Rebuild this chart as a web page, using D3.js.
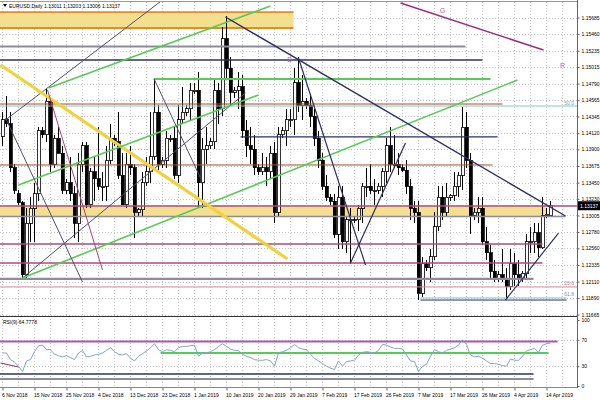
<!DOCTYPE html>
<html><head><meta charset="utf-8">
<script src="https://cdn.jsdelivr.net/npm/d3@7/dist/d3.min.js"></script>
<style>
html,body{margin:0;padding:0;background:#fff;}
svg{display:block;font-family:"Liberation Sans",Arial,sans-serif;}
</style></head><body>
<svg id="chart" width="600" height="400"></svg>
<script>
// ---------- DATA ----------
const dateLabels = ["6 Nov 2018","15 Nov 2018","25 Nov 2018","4 Dec 2018","13 Dec 2018","23 Dec 2018","1 Jan 2019","10 Jan 2019","20 Jan 2019","29 Jan 2019","7 Feb 2019","17 Feb 2019","26 Feb 2019","7 Mar 2019","17 Mar 2019","26 Mar 2019","4 Apr 2019","14 Apr 2019"];
const dateLabelBars = [0,8,16,24,32,40,48,56,64,72,80,88,96,104,112,120,128,136];
const priceTicks = [1.15685,1.15460,1.15235,1.15015,1.14790,1.14565,1.14345,1.14120,1.13900,1.13675,1.13450,1.13230,1.13005,1.12780,1.12560,1.12335,1.12110,1.11890,1.11665];
const rsiTicks = [100,70,30,0];

const openP = [1.1408,1.1430,1.1425,1.1365,1.1330,1.1318,1.1220,1.1290,1.1310,1.1330,
 1.1415,1.1410,1.1455,1.1370,1.1405,1.1385,1.1335,1.1345,1.1330,1.1290,
 1.1370,1.1395,1.1315,1.1360,1.1350,1.1340,1.1340,1.1375,1.1405,1.1400,
 1.1355,1.1315,1.1370,1.1365,1.1305,1.1308,1.1345,1.1360,1.1380,1.1440,
 1.1370,1.1375,1.1405,1.1405,1.1355,1.1430,1.1440,1.1445,1.1470,1.1470,
 1.1345,1.1390,1.1395,1.1400,1.1470,1.1445,1.1540,1.1500,1.1467,1.1470,
 1.1475,1.1415,1.1395,1.1390,1.1365,1.1360,1.1365,1.1360,1.1385,1.1305,
 1.1410,1.1415,1.1430,1.1430,1.1480,1.1450,1.1455,1.1450,1.1435,1.1405,
 1.1375,1.1340,1.1325,1.1320,1.1275,1.1325,1.1265,1.1295,1.1295,1.1295,
 1.1310,1.1340,1.1340,1.1335,1.1335,1.1340,1.1360,1.1395,1.1370,1.1370,
 1.1365,1.1362,1.1340,1.1310,1.1305,1.1195,1.1235,1.1230,1.1245,1.1285,
 1.1325,1.1305,1.1325,1.1328,1.1340,1.1355,1.1420,1.1375,1.1300,1.1305,
 1.1310,1.1265,1.1250,1.1225,1.1215,1.1220,1.1215,1.1205,1.1235,1.1220,
 1.1215,1.1222,1.1265,1.1265,1.1277,1.1257,1.1300,1.13011];
const highP = [1.1440,1.1462,1.1440,1.1370,1.1335,1.1320,1.1310,1.1325,1.1345,1.1420,
 1.1420,1.1472,1.1460,1.1410,1.1420,1.1395,1.1350,1.1380,1.1340,1.1385,
 1.1400,1.1400,1.1365,1.1380,1.1420,1.1360,1.1395,1.1425,1.1410,1.1440,
 1.1385,1.1385,1.1395,1.1370,1.1310,1.1360,1.1380,1.1440,1.1485,1.1450,
 1.1380,1.1415,1.1410,1.1420,1.1450,1.1475,1.1450,1.1480,1.1480,1.1495,
 1.1405,1.1420,1.1405,1.1485,1.1480,1.1555,1.1570,1.1515,1.1475,1.1495,
 1.1490,1.1430,1.1420,1.1410,1.1370,1.1385,1.1380,1.1395,1.1400,1.1420,
 1.1420,1.1445,1.1445,1.1500,1.1515,1.1490,1.1460,1.1465,1.1445,1.1415,
 1.1385,1.1355,1.1330,1.1330,1.1340,1.1340,1.1300,1.1310,1.1300,1.1315,
 1.1345,1.1365,1.1370,1.1350,1.1345,1.1365,1.1405,1.1420,1.1410,1.1385,
 1.1370,1.1375,1.1350,1.1320,1.1320,1.1245,1.1240,1.1255,1.1305,1.1340,
 1.1340,1.1345,1.1330,1.1360,1.1360,1.1447,1.1440,1.1385,1.1310,1.1325,
 1.1325,1.1285,1.1260,1.1240,1.1225,1.1255,1.1230,1.1255,1.1250,1.1240,
 1.1225,1.1275,1.1285,1.1290,1.1290,1.1325,1.1310,1.13203];
const lowP = [1.1395,1.1420,1.1360,1.1330,1.1315,1.1216,1.1215,1.1265,1.1265,1.1320,
 1.1405,1.1400,1.1360,1.1365,1.1385,1.1330,1.1330,1.1320,1.1270,1.1265,
 1.1360,1.1310,1.1310,1.1320,1.1335,1.1320,1.1320,1.1370,1.1395,1.1350,
 1.1315,1.1310,1.1355,1.1270,1.1300,1.1300,1.1340,1.1345,1.1375,1.1360,
 1.1365,1.1365,1.1400,1.1350,1.1345,1.1425,1.1435,1.1430,1.1465,1.1310,
 1.1310,1.1370,1.1390,1.1390,1.1425,1.1435,1.1485,1.1450,1.1460,1.1445,
 1.1405,1.1380,1.1370,1.1355,1.1355,1.1355,1.1340,1.1350,1.1290,1.1300,
 1.1405,1.1395,1.1420,1.1410,1.1440,1.1430,1.1445,1.1420,1.1395,1.1365,
 1.1335,1.1320,1.1315,1.1270,1.1255,1.1255,1.1250,1.1235,1.1290,1.1280,
 1.1290,1.1325,1.1330,1.1315,1.1330,1.1325,1.1345,1.1360,1.1365,1.1355,
 1.1360,1.1330,1.1295,1.1290,1.1186,1.1190,1.1225,1.1210,1.1240,1.1280,
 1.1295,1.1300,1.1320,1.1320,1.1325,1.1335,1.1365,1.1275,1.1295,1.1290,
 1.1260,1.1240,1.1215,1.1210,1.1210,1.1210,1.1188,1.1200,1.1205,1.1205,
 1.1210,1.1215,1.1250,1.1250,1.1245,1.1255,1.1297,1.13006];
const closeP = [1.1430,1.1425,1.1365,1.1335,1.1318,1.1220,1.1290,1.1310,1.1330,1.1415,
 1.1410,1.1455,1.1370,1.1405,1.1385,1.1335,1.1345,1.1330,1.1290,1.1370,
 1.1395,1.1315,1.1360,1.1350,1.1340,1.1340,1.1375,1.1405,1.1400,1.1355,
 1.1315,1.1370,1.1365,1.1305,1.1308,1.1345,1.1360,1.1380,1.1440,1.1370,
 1.1375,1.1405,1.1405,1.1355,1.1430,1.1440,1.1445,1.1470,1.1470,1.1345,
 1.1390,1.1395,1.1400,1.1470,1.1445,1.1540,1.1500,1.1467,1.1470,1.1475,
 1.1415,1.1395,1.1390,1.1365,1.1360,1.1365,1.1360,1.1385,1.1305,1.1410,
 1.1415,1.1430,1.1430,1.1480,1.1450,1.1455,1.1450,1.1435,1.1405,1.1375,
 1.1340,1.1325,1.1320,1.1275,1.1325,1.1265,1.1295,1.1295,1.1295,1.1310,
 1.1340,1.1340,1.1335,1.1335,1.1340,1.1360,1.1395,1.1370,1.1370,1.1365,
 1.1362,1.1340,1.1310,1.1305,1.1195,1.1235,1.1230,1.1245,1.1285,1.1325,
 1.1305,1.1325,1.1328,1.1340,1.1355,1.1420,1.1375,1.1300,1.1305,1.1310,
 1.1265,1.1250,1.1225,1.1215,1.1220,1.1215,1.1205,1.1235,1.1220,1.1215,
 1.1222,1.1265,1.1265,1.1277,1.1257,1.1300,1.1302,1.13137];
const rsiValues = [50,50,40,36,30,22,38,40,52,61,
 62,55,55,48,46,44,46,43,40,50,
 54,44,45,47,48,50,54,58,52,48,
 47,49,42,38,45,49,53,58,64,55,
 52,55,54,52,58,60,60,61,62,45,
 50,50,52,55,60,64,60,56,54,54,
 48,45,43,40,39,39,40,38,30,50,
 52,54,58,63,58,56,55,48,42,38,
 34,30,27,25,38,30,37,38,39,47,
 51,52,51,50,54,63,62,59,57,57,
 56,47,38,37,22,30,33,45,55,52,
 50,54,56,58,62,70,63,47,44,45,
 42,38,34,34,33,31,30,41,39,39,
 45,53,55,57,51,62,64,65];

// drawn objects (bar index / price)
const zoneTop = [1.15759, 1.13134];
const zoneBottom = [1.15543, 1.12992];
const zoneStart = [-1, -1];
const zoneEnd = [72.75, 136];

const hLinePrice = [1.15292,1.15110,1.14853,1.14514,1.14487,1.14068,1.13689,1.13134,1.12992,1.12619,1.12362,1.12146,1.12038,1.11889,1.11861];
const hLineStart = [-1,-1,37.75,-1,-1,59.5,-1,-1,-1,-1,-1,-1,-1,104.5,104.5];
const hLineEnd   = [115.75,120,122,125,144,123.75,122.5,144,140.75,135,135,132.75,144,141,141];

const diagStartBar = [5,5,0.75,-0.5,11.5,4,55.75,74,87,11.25,99.5,125.75,0.75,37.9];
const diagStartPrice = [1.12159,1.12159,1.14298,1.15042,1.14731,1.13418,1.15692,1.15137,1.12362,1.14704,1.15881,1.11861,1.14325,1.14853];
const diagEndBar = [60.75,128.75,40,71.25,67,64,140.75,90.75,100.75,25,135.25,139,20,49.5];
const diagEndPrice = [1.14663,1.14839,1.15922,1.12416,1.15841,1.14636,1.12998,1.12335,1.13986,1.12267,1.15245,1.12768,1.12105,1.13513];

const fiboLabels = ["50.0","23.6","61.8"];
const fiboPrice = [1.14487,1.12038,1.11889];
const markText = ["G","R","B"];
const markBar = [110,140,71.75];
const markPrice = [1.15773,1.15042,1.15123];

const rsiLineLevel = [67.4,50,18.2,10.6];
const rsiLineStart = [-1,39.5,-1,-1];
const rsiLineEnd = [138.75,136.5,132.75,132.75];
const rsiDiagBar = [-0.5,4];
const rsiDiagVal = [34.8,28.8];

const titleText = "EURUSD,Daily  1.13011 1.13203 1.13006 1.13137";
const rsiTitle = "RSI(9) 64.7778";
const lastPrice = 1.13137;

// ---------- STYLES ----------
const hLineStyle = [
 ["#8c8c9c",2],["#2e3060",1.5],["#55cc55",2],["#a0522d",1],["#88c4c4",1],["#2e3060",1.2],["#a0522d",1],
 ["#b0487a",1.5],["#8c8c9c",1.5],["#b0487a",1.5],["#b0487a",1.5],["#8c8c9c",2.2],["#d08a9a",1],["#88c4c4",1],["#2e3060",1]];
const diagStyle = [
 ["#50506a",1],["#55cc55",1.6],["#50506a",1],["#f2d23c",3.2],["#55cc55",1.6],["#55cc55",1.6],["#2e3060",1.4],["#2e3060",1.2],["#2e3060",1.2],["#b0407a",1],["#a03070",1.5],["#2e3060",1.2],["#50506a",1],["#50506a",1]];
const rsiLineStyle = [["#a858b8",2.2],["#55cc55",2.2],["#2e3060",1.4],["#8c8c9c",2.2]];

// ---------- SCALES ----------
const svg = d3.select("#chart");
const plotRight = 577;
const x = d3.scaleLinear().domain([0,137]).range([2.5,550.5]);
const y = d3.scaleLinear().domain([1.11665,1.15685]).range([314.5,17.5]);
const yr = d3.scaleLinear().domain([0,100]).range([386,320]);
const mainTop = 2, mainBottom = 316, rsiTop = 316, rsiBottom = 387.5;

const defs = svg.append("defs");
defs.append("clipPath").attr("id","clipMain").append("rect").attr("x",0).attr("y",mainTop).attr("width",plotRight).attr("height",mainBottom-mainTop);
defs.append("clipPath").attr("id","clipRsi").append("rect").attr("x",0).attr("y",rsiTop).attr("width",plotRight).attr("height",rsiBottom-rsiTop);

svg.append("rect").attr("width",600).attr("height",400).attr("fill","#fff");

const main = svg.append("g").attr("clip-path","url(#clipMain)");
const rsiG = svg.append("g").attr("clip-path","url(#clipRsi)");

// grid
const gridBars = d3.range(0,144,4);
const gridColor = "#c4c4c4";
main.selectAll("line.vg").data(gridBars).join("line")
  .attr("x1",d=>x(d)).attr("x2",d=>x(d)).attr("y1",mainTop).attr("y2",mainBottom)
  .attr("stroke",gridColor).attr("stroke-dasharray","1,2").attr("shape-rendering","crispEdges");
main.selectAll("line.hg").data(priceTicks).join("line")
  .attr("x1",0).attr("x2",plotRight).attr("y1",d=>Math.round(y(d))+0.5).attr("y2",d=>Math.round(y(d))+0.5)
  .attr("stroke",gridColor).attr("stroke-dasharray","1,2").attr("shape-rendering","crispEdges");
rsiG.selectAll("line.vg").data(gridBars).join("line")
  .attr("x1",d=>x(d)).attr("x2",d=>x(d)).attr("y1",rsiTop).attr("y2",rsiBottom)
  .attr("stroke",gridColor).attr("stroke-dasharray","1,2").attr("shape-rendering","crispEdges");
rsiG.selectAll("line.hg").data([70,30]).join("line")
  .attr("x1",0).attr("x2",plotRight).attr("y1",d=>Math.round(yr(d))+0.5).attr("y2",d=>Math.round(yr(d))+0.5)
  .attr("stroke",gridColor).attr("stroke-dasharray","1,2").attr("shape-rendering","crispEdges");

// zones
const zones = d3.range(zoneTop.length);
main.selectAll("rect.zone").data(zones).join("rect")
  .attr("x",i=>x(zoneStart[i])).attr("width",i=>x(zoneEnd[i])-x(zoneStart[i]))
  .attr("y",i=>y(zoneTop[i])).attr("height",i=>y(zoneBottom[i])-y(zoneTop[i]))
  .attr("fill","#f3df8e");
[zoneTop[0],zoneBottom[0]].forEach(p=>{
  main.append("line").attr("x1",x(zoneStart[0])).attr("x2",x(zoneEnd[0]))
   .attr("y1",y(p)).attr("y2",y(p)).attr("stroke","#e8892a").attr("stroke-width",1.8);
});

// candles
const bars = d3.range(openP.length);
const cg = main.append("g").attr("shape-rendering","crispEdges");
cg.selectAll("line.wick").data(bars).join("line")
  .attr("x1",i=>x(i)).attr("x2",i=>x(i))
  .attr("y1",i=>y(highP[i])).attr("y2",i=>y(lowP[i]))
  .attr("stroke","#000").attr("stroke-width",1);
cg.selectAll("rect.body").data(bars).join("rect")
  .attr("x",i=>x(i)-1.5).attr("width",3)
  .attr("y",i=>y(Math.max(openP[i],closeP[i])))
  .attr("height",i=>Math.max(1,Math.abs(y(openP[i])-y(closeP[i]))))
  .attr("fill",i=>closeP[i]>=openP[i]?"#fff":"#000")
  .attr("stroke","#000").attr("stroke-width",0.8);

// horizontal lines
main.selectAll("line.hl").data(d3.range(hLinePrice.length)).join("line")
  .attr("x1",i=>x(hLineStart[i])).attr("x2",i=>x(hLineEnd[i]))
  .attr("y1",i=>y(hLinePrice[i])).attr("y2",i=>y(hLinePrice[i]))
  .attr("stroke",i=>hLineStyle[i][0]).attr("stroke-width",i=>hLineStyle[i][1]);

// diagonal lines
main.selectAll("line.dl").data(d3.range(diagStartBar.length)).join("line")
  .attr("x1",i=>x(diagStartBar[i])).attr("y1",i=>y(diagStartPrice[i]))
  .attr("x2",i=>x(diagEndBar[i])).attr("y2",i=>y(diagEndPrice[i]))
  .attr("stroke",i=>diagStyle[i][0]).attr("stroke-width",i=>diagStyle[i][1]);

// fibo labels
const fiboColors = ["#6aaaaa","#c07a8a","#6a9ab0"];
main.selectAll("text.fibo").data(d3.range(fiboLabels.length)).join("text")
  .attr("x",574).attr("y",i=>y(fiboPrice[i])-1.5).attr("text-anchor","end")
  .attr("font-size",5).attr("fill",(d,i)=>fiboColors[i]).text(i=>fiboLabels[i]);
main.selectAll("text.mark").data(d3.range(markText.length)).join("text")
  .attr("x",i=>x(markBar[i])).attr("y",i=>y(markPrice[i])+2.5).attr("text-anchor","middle")
  .attr("font-size",7).attr("fill","#b060c0").text(i=>markText[i]);

// title
svg.append("path").attr("d","M3,4 L7,4 L5,7 Z").attr("fill","#000");
svg.append("text").attr("x",9).attr("y",8).attr("font-size",5).attr("fill","#000").text(titleText);

// RSI
rsiG.selectAll("line.rl").data(d3.range(rsiLineLevel.length)).join("line")
  .attr("x1",i=>x(rsiLineStart[i])).attr("x2",i=>x(rsiLineEnd[i]))
  .attr("y1",i=>yr(rsiLineLevel[i])).attr("y2",i=>yr(rsiLineLevel[i]))
  .attr("stroke",i=>rsiLineStyle[i][0]).attr("stroke-width",i=>rsiLineStyle[i][1]);
rsiG.append("line").attr("x1",x(rsiDiagBar[0])).attr("y1",yr(rsiDiagVal[0]))
  .attr("x2",x(rsiDiagBar[1])).attr("y2",yr(rsiDiagVal[1])).attr("stroke","#a03070").attr("stroke-width",1.2);
rsiG.append("path").datum(rsiValues)
  .attr("d",d3.line().x((d,i)=>x(i)).y(d=>yr(d)))
  .attr("fill","none").attr("stroke","#7fa6c4").attr("stroke-width",1);
svg.append("text").attr("x",3).attr("y",324).attr("font-size",5).attr("fill","#000").text(rsiTitle);

// frame
svg.append("line").attr("x1",0).attr("x2",plotRight).attr("y1",1.5).attr("y2",1.5).attr("stroke","#9a9a9a");
svg.append("line").attr("x1",0).attr("x2",plotRight+1).attr("y1",316.5).attr("y2",316.5).attr("stroke","#333");
svg.append("line").attr("x1",0).attr("x2",plotRight+1).attr("y1",387.5).attr("y2",387.5).attr("stroke","#888");
svg.append("line").attr("x1",plotRight+0.5).attr("x2",plotRight+0.5).attr("y1",0).attr("y2",388).attr("stroke","#666");

// price axis
const pa = svg.append("g").attr("transform",`translate(${plotRight+0.5},0)`)
  .call(d3.axisRight(y).tickValues(priceTicks).tickSize(2).tickPadding(2).tickFormat(d=>d.toFixed(5)));
pa.select(".domain").remove();
pa.selectAll("text").attr("font-size",5).attr("fill","#000").attr("font-family","Liberation Sans, Arial, sans-serif");
pa.selectAll("line").attr("stroke","#666");
const ra = svg.append("g").attr("transform",`translate(${plotRight+0.5},0)`)
  .call(d3.axisRight(yr).tickValues(rsiTicks).tickSize(2).tickPadding(2));
ra.select(".domain").remove();
ra.selectAll("text").attr("font-size",5).attr("fill","#000").attr("font-family","Liberation Sans, Arial, sans-serif");
ra.selectAll("line").attr("stroke","#666");
const da = svg.append("g").attr("transform","translate(0,387.5)")
  .call(d3.axisBottom(x).tickValues(dateLabelBars).tickSize(3).tickPadding(3).tickFormat((d,i)=>dateLabels[i]));
da.select(".domain").remove();
da.selectAll("text").attr("font-size",5).attr("fill","#000").attr("text-anchor","start").attr("dx",-1)
  .attr("font-family","Liberation Sans, Arial, sans-serif");
da.selectAll("line").attr("stroke","#666");

// last price tag
const ly = y(lastPrice);
svg.append("rect").attr("x",plotRight+1).attr("y",ly-4.5).attr("width",22).attr("height",9).attr("fill","#000");
svg.append("text").attr("x",plotRight+3).attr("y",ly+1.8).attr("font-size",5).attr("fill","#fff").text(lastPrice.toFixed(5));
</script>
</body></html>
